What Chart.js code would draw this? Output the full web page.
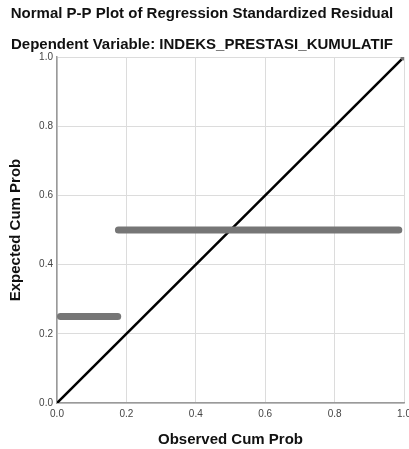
<!DOCTYPE html>
<html lang='en'>
  <head>
    <title>Normal P-P Plot of Regression Standardized Residual</title>
    <meta charset='UTF-8'>
    <script src='https://cdn.jsdelivr.net/npm/chart.js@4.4.1/dist/chart.umd.min.js'></script>
    <style>
      html, body { margin: 0; padding: 0; background: #fff; }
      #box { width: 409px; height: 449px; }
    </style>
  </head>
  <body>
    <div id='box'><canvas id='grafico'></canvas></div>
    <script>
      // Observed vs expected cumulative probability (the dense runs of points)
      let obsLow   = [0.01, 0.175];
      let expLow   = [0.25, 0.25];
      let obsHigh  = [0.177, 0.985];
      let expHigh  = [0.5, 0.5];
      let obsTop   = [1.0];
      let expTop   = [1.0];
      let diagX    = [0, 1];
      let diagY    = [0, 1];
      let tickVals = [0, 0.2, 0.4, 0.6, 0.8, 1.0];

      let pts = (xs, ys) => xs.map((x, i) => ({ x: x, y: ys[i] }));
      let font = 'Arial, "Liberation Sans", sans-serif';
      let pointGray = '#767676';

      let ctx = document.getElementById('grafico').getContext('2d');

      let myChart = new Chart(ctx, {
        type: 'scatter',
        data: {
          datasets: [
            {
              data: pts(obsLow, expLow),
              showLine: true,
              borderColor: pointGray,
              borderWidth: 7,
              borderCapStyle: 'round',
              pointRadius: 0,
            },
            {
              data: pts(obsHigh, expHigh),
              showLine: true,
              borderColor: pointGray,
              borderWidth: 7,
              borderCapStyle: 'round',
              pointRadius: 0,
            },
            {
              data: pts(obsTop, expTop),
              backgroundColor: pointGray,
              borderWidth: 0,
              pointRadius: 3.5,
            },
            {
              data: pts(diagX, diagY),
              showLine: true,
              borderColor: '#000',
              borderWidth: 2.5,
              pointRadius: 0,
            },
          ],
        },
        options: {
          responsive: true,
          maintainAspectRatio: false,
          animation: false,
          layout: { padding: { right: 5 } },
          plugins: {
            legend: { display: false },
            tooltip: { enabled: false },
            title: {
              display: true,
              text: 'Normal P-P Plot of Regression Standardized Residual',
              color: '#111',
              font: { family: font, size: 15, weight: 'bold' },
              padding: { top: 5, bottom: 4 },
            },
            subtitle: {
              display: true,
              text: 'Dependent Variable: INDEKS_PRESTASI_KUMULATIF',
              color: '#111',
              font: { family: font, size: 15, weight: 'bold' },
              padding: { top: 9, bottom: 3 },
            },
          },
          scales: {
            x: {
              type: 'linear',
              min: 0,
              max: 1,
              // let the last label run off the edge like the original
              afterFit: s => { s.height = 46; s.paddingRight = 0; },
              afterBuildTicks: s => { s.ticks = tickVals.map(v => ({ value: v })); },
              grid: { color: '#dcdcdc', lineWidth: 1, drawTicks: false },
              border: { color: '#9a9a9a', width: 1.5 },
              ticks: {
                color: '#444',
                padding: 5,
                font: { family: font, size: 10 },
                callback: v => v.toFixed(1),
              },
              title: {
                display: true,
                text: 'Observed Cum Prob',
                color: '#111',
                font: { family: font, size: 15, weight: 'bold' },
                padding: { top: 0, bottom: 0 },
              },
            },
            y: {
              type: 'linear',
              min: 0,
              max: 1,
              afterFit: s => { s.width = 57; },
              afterBuildTicks: s => { s.ticks = tickVals.map(v => ({ value: v })); },
              grid: { color: '#dcdcdc', lineWidth: 1, drawTicks: false },
              border: { color: '#9a9a9a', width: 1.5 },
              ticks: {
                color: '#444',
                padding: 4,
                font: { family: font, size: 10 },
                callback: v => v.toFixed(1),
              },
              title: {
                display: true,
                text: 'Expected Cum Prob',
                color: '#111',
                font: { family: font, size: 15, weight: 'bold' },
                padding: { top: 7, bottom: 0 },
              },
            },
          },
        },
      });
    </script>
  </body>
</html>
